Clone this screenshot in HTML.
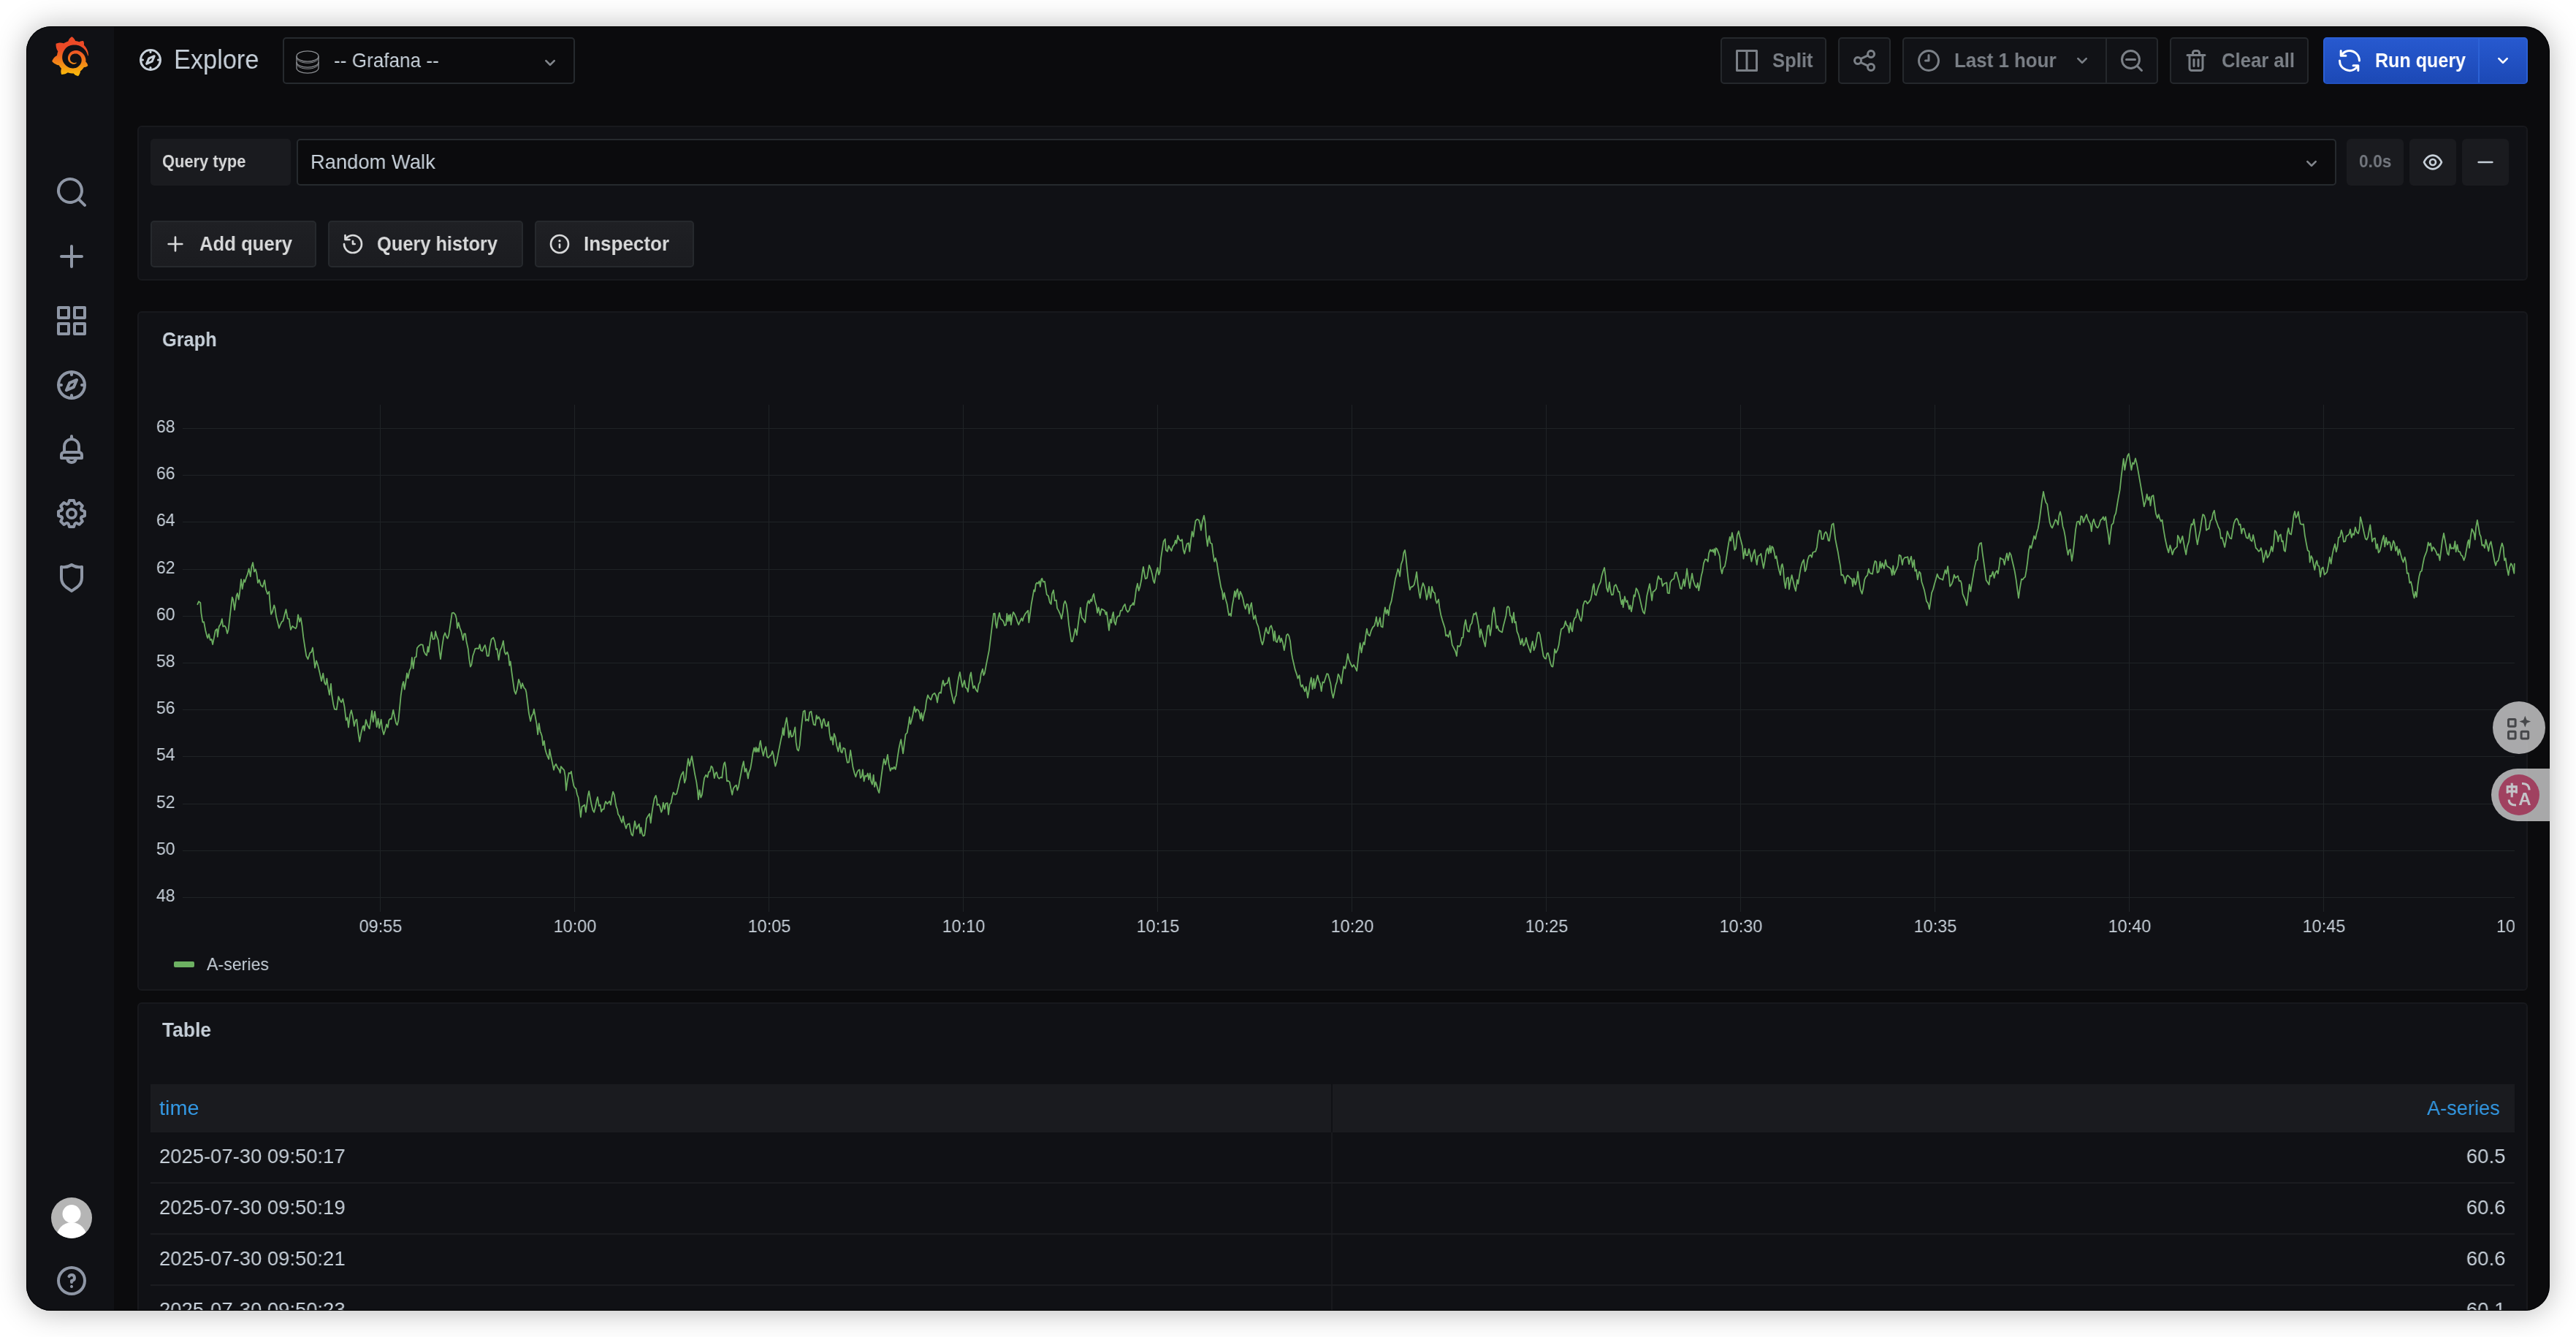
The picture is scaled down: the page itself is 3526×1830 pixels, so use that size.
<!DOCTYPE html>
<html lang="en"><head><meta charset="utf-8"><title>Explore - Grafana</title>
<style>
html,body{margin:0;padding:0;background:#ffffff;}
body{width:3526px;height:1830px;position:relative;overflow:hidden;font-family:"Liberation Sans","Noto Sans CJK SC",sans-serif;}
.win{position:absolute;left:36px;top:36px;width:3454px;height:1758px;border-radius:34px;background:#0b0b0d;overflow:hidden;box-shadow:0 1px 42px rgba(0,0,0,0.29);}
.win:after{content:'';position:absolute;left:0;top:0;right:0;bottom:0;border:1px solid rgba(0,0,0,0.85);border-radius:34px;pointer-events:none;}
.page{position:absolute;left:-36px;top:-36px;width:3526px;height:1830px;}
.t{position:absolute;white-space:nowrap;display:block;will-change:transform;}
.ic{position:absolute;display:block;overflow:visible;}
</style></head><body>
<div class="win"><div class="page">
<div class="sidemenu" style="position:absolute;left:36px;top:36px;width:120px;height:1758px;box-sizing:border-box;background:#101115;"></div>
<svg class="ic" style="left:69.5px;top:50px" width="52.2" height="54.3" viewBox="0 0 351 365"><defs><linearGradient id="glg" gradientUnits="userSpaceOnUse" x1="175.5" y1="445.5" x2="175.5" y2="114"><stop offset="0" stop-color="#FFE600"/><stop offset="1" stop-color="#EC4A27"/></linearGradient></defs><path fill="url(#glg)" d="M342,161.2c-0.600-6.100-1.600-13.100-3.600-20.900c-2-7.700-5-16.200-9.400-25c-4.400-8.800-10.100-17.900-17.500-26.800c-2.900-3.500-6.100-6.900-9.500-10.200c5.100-20.300-6.200-37.900-6.200-37.900c-19.500-1.200-31.900,6.100-36.500,9.400c-0.800-0.300-1.500-0.700-2.300-1c-3.300-1.300-6.700-2.600-10.300-3.700c-3.500-1.100-7.100-2.100-10.800-3c-3.700-0.900-7.400-1.600-11.200-2.200c-0.700-0.100-1.300-0.200-2-0.300c-8.500-27.200-32.900-38.600-32.900-38.600c-27.300,17.300-32.400,41.500-32.400,41.500s-0.100,0.500-0.300,1.400c-1.500,0.400-3,0.900-4.500,1.300c-2.100,0.600-4.200,1.400-6.200,2.200c-2.100,0.800-4.100,1.600-6.200,2.500c-4.100,1.800-8.200,3.800-12.200,6c-3.900,2.200-7.700,4.600-11.400,7.100c-0.500-0.200-1-0.400-1-0.400c-37.800-14.400-71.300,2.900-71.300,2.900c-3.100,40.200,15.100,65.500,18.700,70.100c-0.900,2.500-1.700,5-2.500,7.500c-2.800,9.100-4.900,18.400-6.200,28.100c-0.200,1.400-0.400,2.800-0.500,4.200c-35,17.300-45.300,52.600-45.300,52.600c29.100,33.500,63.100,35.600,63.100,35.600c0,0,0.100-0.100,0.100-0.100c4.300,7.700,9.300,15,14.900,21.900c2.400,2.900,4.800,5.600,7.400,8.300c-10.600,30.400,1.500,55.600,1.500,55.600c32.400,1.200,53.700-14.200,58.200-17.700c3.200,1.100,6.500,2.100,9.800,2.900c10,2.600,20.200,4.100,30.400,4.500c2.500,0.100,5.100,0.200,7.600,0.100l1.200,0l0.800,0l1.600,0l1.600-0.100l0,0.100c15.300,21.800,42.100,24.900,42.100,24.900c19.100-20.100,20.200-40.100,20.200-44.400l0,0c0,0,0-0.100,0-0.300c0-0.400,0-0.600,0-0.600l0,0c0-0.300,0-0.600,0-0.900c4-2.800,7.800-5.800,11.400-9.100c7.600-6.900,14.300-14.800,19.900-23.300c0.500-0.800,1-1.600,1.500-2.400c21.600,1.200,36.900-13.400,36.900-13.400c-3.600-22.500-16.400-33.500-19.100-35.600l0,0c0,0-0.100-0.100-0.300-0.200c-0.200-0.100-0.200-0.200-0.200-0.200c0,0,0,0,0,0c-0.100-0.100-0.300-0.200-0.500-0.300c0.100-1.400,0.200-2.700,0.300-4.100c0.200-2.400,0.200-4.900,0.200-7.300l0-1.800l0-0.900l0-0.500c0-0.600,0-0.400,0-0.600l-0.100-1.500l-0.100-2c0-0.700-0.100-1.300-0.200-1.900c-0.100-0.600-0.100-1.300-0.200-1.900l-0.200-1.900l-0.300-1.900c-0.400-2.500-0.800-4.900-1.400-7.400c-2.300-9.700-6.100-18.900-11-27.200c-5-8.300-11.200-15.600-18.300-21.800c-7-6.200-14.900-11.200-23.100-14.900c-8.300-3.700-16.900-6.100-25.500-7.200c-4.300-0.600-8.600-0.800-12.900-0.700l-1.600,0l-0.400,0c-0.100,0-0.600,0-0.500,0l-0.700,0l-1.600,0.100c-0.600,0-1.200,0.100-1.700,0.100c-2.200,0.200-4.400,0.500-6.500,0.900c-8.600,1.600-16.700,4.700-23.800,9c-7.100,4.300-13.300,9.600-18.300,15.600c-5,6-8.900,12.700-11.600,19.600c-2.700,6.900-4.200,14.100-4.600,21c-0.100,1.700-0.100,3.500-0.100,5.200c0,0.400,0,0.900,0,1.300l0.100,1.400c0.100,0.800,0.100,1.700,0.200,2.500c0.300,3.500,1,6.900,1.900,10.100c1.900,6.500,4.900,12.400,8.600,17.400c3.700,5,8.200,9.100,12.900,12.400c4.700,3.200,9.800,5.500,14.800,7c5,1.500,10,2.100,14.700,2.100c0.600,0,1.200,0,1.700,0c0.300,0,0.600,0,0.900,0c0.300,0,0.600,0,0.900-0.100c0.500,0,1-0.100,1.500-0.100c0.100,0,0.300,0,0.400-0.100l0.500-0.100c0.300,0,0.600-0.100,0.900-0.100c0.600-0.100,1.100-0.200,1.700-0.300c0.600-0.100,1.100-0.200,1.600-0.400c1.100-0.200,2.100-0.600,3.100-0.900c2-0.700,4-1.500,5.700-2.400c1.800-0.900,3.400-2,5-3c0.400-0.300,0.900-0.600,1.300-1c1.600-1.300,1.900-3.700,0.600-5.300c-1.100-1.400-3.100-1.800-4.700-0.900c-0.400,0.200-0.800,0.400-1.200,0.600c-1.400,0.700-2.800,1.300-4.300,1.800c-1.500,0.500-3.100,0.900-4.700,1.200c-0.800,0.100-1.600,0.200-2.500,0.300c-0.400,0-0.800,0.100-1.300,0.100c-0.400,0-0.900,0-1.200,0c-0.400,0-0.800,0-1.200,0c-0.500,0-1,0-1.500-0.100c0,0-0.300,0-0.100,0l-0.200,0l-0.300,0c-0.200,0-0.500,0-0.700-0.100c-0.500-0.100-0.900-0.100-1.400-0.200c-3.700-0.500-7.400-1.600-10.900-3.200c-3.600-1.600-7-3.800-10.100-6.600c-3.100-2.800-5.800-6.100-7.900-9.900c-2.100-3.800-3.600-8-4.300-12.400c-0.300-2.200-0.500-4.500-0.400-6.700c0-0.600,0.100-1.200,0.100-1.800c0,0.200,0-0.100,0-0.100l0-0.200l0-0.500c0-0.300,0.100-0.600,0.100-0.900c0.100-1.200,0.300-2.400,0.500-3.600c1.700-9.600,6.500-19,13.900-26.100c1.900-1.800,3.900-3.400,6-4.900c2.100-1.500,4.400-2.800,6.800-3.900c2.400-1.100,4.800-2,7.400-2.700c2.500-0.700,5.100-1.100,7.800-1.400c1.300-0.100,2.600-0.200,4-0.200c0.400,0,0.600,0,0.900,0l1.100,0l0.700,0c0.300,0,0,0,0.100,0l0.300,0l1.100,0.100c2.900,0.200,5.700,0.600,8.500,1.300c5.600,1.200,11.100,3.300,16.200,6.100c10.200,5.700,18.900,14.500,24.200,25.100c2.700,5.300,4.600,11,5.500,16.900c0.200,1.500,0.400,3,0.500,4.500l0.100,1.100l0.100,1.100c0,0.400,0,0.800,0,1.100c0,0.400,0,0.800,0,1.100l0,1l0,1.100c0,0.700-0.100,1.900-0.100,2.600c-0.100,1.600-0.300,3.300-0.500,4.900c-0.200,1.600-0.500,3.200-0.800,4.800c-0.300,1.600-0.700,3.200-1.100,4.700c-0.800,3.100-1.800,6.200-3,9.300c-2.400,6-5.600,11.800-9.400,17.100c-7.700,10.600-18.200,19.200-30.200,24.700c-6,2.700-12.300,4.700-18.800,5.700c-3.200,0.600-6.500,0.900-9.800,1l-0.600,0l-0.500,0l-1.100,0l-1.600,0l-0.800,0c0.400,0-0.100,0-0.100,0l-0.300,0c-1.800,0-3.500-0.100-5.300-0.300c-7-0.500-13.900-1.800-20.700-3.700c-6.700-1.900-13.200-4.600-19.400-7.800c-12.300-6.600-23.400-15.600-32-26.500c-4.300-5.400-8.100-11.300-11.200-17.400c-3.100-6.100-5.600-12.600-7.400-19.100c-1.800-6.600-2.900-13.300-3.400-20.100l-0.100-1.300l0-0.300l0-0.300l0-0.600l0-1.100l0-0.300l0-0.400l0-0.800l0-1.600l0-0.300c0,0,0,0.100,0-0.100l0-0.600c0-0.800,0-1.700,0-2.500c0.100-3.300,0.400-6.800,0.800-10.200c0.400-3.400,1-6.900,1.700-10.300c0.700-3.400,1.500-6.800,2.500-10.200c1.900-6.700,4.300-13.200,7.100-19.300c5.700-12.200,13.100-23.100,22-31.800c2.200-2.200,4.500-4.200,6.900-6.200c2.400-1.900,4.900-3.700,7.500-5.400c2.500-1.700,5.200-3.200,7.900-4.600c1.300-0.700,2.700-1.400,4.100-2c0.700-0.300,1.400-0.600,2.100-0.900c0.700-0.300,1.400-0.600,2.100-0.900c2.800-1.200,5.700-2.200,8.700-3.100c0.700-0.200,1.500-0.400,2.200-0.700c0.700-0.200,1.500-0.400,2.200-0.600c1.500-0.400,3-0.800,4.500-1.100c0.700-0.200,1.500-0.300,2.300-0.500c0.800-0.200,1.500-0.300,2.300-0.500c0.800-0.100,1.500-0.300,2.300-0.400l1.100-0.200l1.200-0.200c0.800-0.100,1.500-0.200,2.300-0.300c0.900-0.100,1.700-0.200,2.600-0.300c0.700-0.100,1.900-0.200,2.600-0.300c0.500-0.100,1.100-0.100,1.600-0.200l1.100-0.100l0.500-0.100l0.600,0c0.900-0.100,1.700-0.100,2.600-0.200l1.300-0.100c0,0,0.500,0,0.100,0l0.300,0l0.600,0c0.700,0,1.500-0.100,2.200-0.100c2.900-0.100,5.900-0.100,8.800,0c5.800,0.200,11.500,0.900,17,1.900c11.100,2.100,21.500,5.600,31,10.300c9.500,4.600,17.900,10.300,25.300,16.500c0.500,0.400,0.900,0.800,1.400,1.200c0.400,0.400,0.900,0.800,1.300,1.200c0.900,0.800,1.700,1.600,2.600,2.400c0.900,0.800,1.700,1.600,2.500,2.400c0.800,0.800,1.600,1.600,2.400,2.500c3.100,3.300,6,6.600,8.600,10c5.200,6.700,9.400,13.500,12.700,19.900c0.200,0.400,0.400,0.800,0.600,1.200c0.200,0.400,0.400,0.800,0.600,1.200c0.400,0.800,0.800,1.600,1.100,2.400c0.400,0.800,0.700,1.500,1.100,2.300c0.300,0.800,0.700,1.500,1,2.300c1.200,3,2.400,5.900,3.300,8.600c1.500,4.400,2.600,8.300,3.500,11.700c0.300,1.400,1.600,2.300,3,2.100c1.500-0.100,2.600-1.300,2.600-2.800C342.600,170.400,342.500,166.100,342,161.200z"/></svg>
<svg class="ic" style="left:74px;top:239px" width="48" height="48" viewBox="0 0 24 24"><path fill="#8e96a5" d="M21.71,20.29,18,16.61A9,9,0,1,0,16.61,18l3.68,3.68a1,1,0,0,0,1.42,0A1,1,0,0,0,21.71,20.29ZM11,18a7,7,0,1,1,7-7A7,7,0,0,1,11,18Z"/></svg>
<svg class="ic" style="left:74px;top:327px" width="48" height="48" viewBox="0 0 24 24"><path fill="#8e96a5" d="M19,11H13V5a1,1,0,0,0-2,0v6H5a1,1,0,0,0,0,2h6v6a1,1,0,0,0,2,0V13h6a1,1,0,0,0,0-2Z"/></svg>
<svg class="ic" style="left:74px;top:415px" width="48" height="48" viewBox="0 0 24 24"><path fill="#8e96a5" d="M10,13H3a1,1,0,0,0-1,1v7a1,1,0,0,0,1,1h7a1,1,0,0,0,1-1V14A1,1,0,0,0,10,13ZM9,20H4V15H9ZM21,2H14a1,1,0,0,0-1,1v7a1,1,0,0,0,1,1h7a1,1,0,0,0,1-1V3A1,1,0,0,0,21,2ZM20,9H15V4h5Zm1,4H14a1,1,0,0,0-1,1v7a1,1,0,0,0,1,1h7a1,1,0,0,0,1-1V14A1,1,0,0,0,21,13Zm-1,7H15V15h5ZM10,2H3A1,1,0,0,0,2,3v7a1,1,0,0,0,1,1h7a1,1,0,0,0,1-1V3A1,1,0,0,0,10,2ZM9,9H4V4H9Z"/></svg>
<svg class="ic" style="left:74px;top:503px" width="48" height="48" viewBox="0 0 24 24"><path fill="#8e96a5" d="M12,2A10,10,0,1,0,22,12,10,10,0,0,0,12,2Zm1,17.93V19a1,1,0,0,0-2,0v.93A8,8,0,0,1,4.07,13H5a1,1,0,0,0,0-2H4.07A8,8,0,0,1,11,4.07V5a1,1,0,0,0,2,0V4.07A8,8,0,0,1,19.93,11H19a1,1,0,0,0,0,2h.93A8,8,0,0,1,13,19.93ZM15.14,7.55l-5,2.12a1,1,0,0,0-.52.52l-2.12,5a1,1,0,0,0,.21,1.1,1,1,0,0,0,.7.3.93.93,0,0,0,.4-.09l5-2.12a1,1,0,0,0,.52-.52l2.12-5a1,1,0,0,0-1.31-1.31Zm-2.49,5.1-2.28,1,1-2.28,2.28-1Z"/></svg>
<svg class="ic" style="left:74px;top:591px" width="48" height="48" viewBox="0 0 24 24"><path fill="#8e96a5" d="M18,13.18V10a6,6,0,0,0-5-5.91V3a1,1,0,0,0-2,0V4.09A6,6,0,0,0,6,10v3.18A3,3,0,0,0,4,16v2a1,1,0,0,0,1,1H8.14a4,4,0,0,0,7.72,0H19a1,1,0,0,0,1-1V16A3,3,0,0,0,18,13.18ZM8,10a4,4,0,0,1,8,0v3H8Zm4,10a2,2,0,0,1-1.72-1h3.44A2,2,0,0,1,12,20Zm6-3H6V16a1,1,0,0,1,1-1H17a1,1,0,0,1,1,1Z"/></svg>
<svg class="ic" style="left:74px;top:679px" width="48" height="48" viewBox="0 0 24 24"><path fill="#8e96a5" d="M21.32,9.55l-1.89-.63.89-1.78A1,1,0,0,0,20.13,6L18,3.87a1,1,0,0,0-1.15-.19l-1.78.89-.63-1.89A1,1,0,0,0,13.5,2h-3a1,1,0,0,0-.95.68L8.92,4.57,7.14,3.68A1,1,0,0,0,6,3.87L3.87,6a1,1,0,0,0-.19,1.15l.89,1.78-1.89.63A1,1,0,0,0,2,10.5v3a1,1,0,0,0,.68.95l1.89.63-.89,1.78A1,1,0,0,0,3.87,18L6,20.13a1,1,0,0,0,1.15.19l1.78-.89.63,1.89a1,1,0,0,0,.95.68h3a1,1,0,0,0,.95-.68l.63-1.89,1.78.89A1,1,0,0,0,18,20.13L20.13,18a1,1,0,0,0,.19-1.15l-.89-1.78,1.89-.63A1,1,0,0,0,22,13.5v-3A1,1,0,0,0,21.32,9.55ZM20,12.78l-1.2.4A2,2,0,0,0,17.64,16l.57,1.14-1.1,1.1L16,17.64a2,2,0,0,0-2.79,1.16l-.4,1.2H11.22l-.4-1.2A2,2,0,0,0,8,17.64l-1.14.57-1.1-1.1L6.36,16A2,2,0,0,0,5.2,13.18L4,12.78V11.22l1.2-.4A2,2,0,0,0,6.36,8L5.79,6.89l1.1-1.1L8,6.36A2,2,0,0,0,10.82,5.2l.4-1.2h1.56l.4,1.2A2,2,0,0,0,16,6.36l1.14-.57,1.1,1.1L17.64,8a2,2,0,0,0,1.16,2.79l1.2.4ZM12,8a4,4,0,1,0,4,4A4,4,0,0,0,12,8Zm0,6a2,2,0,1,1,2-2A2,2,0,0,1,12,14Z"/></svg>
<svg class="ic" style="left:74px;top:767px" width="48" height="48" viewBox="0 0 24 24"><path fill="#8e96a5" d="M19.63,3.65a1,1,0,0,0-.84-.2,8,8,0,0,1-6.22-1.27,1,1,0,0,0-1.14,0A8,8,0,0,1,5.21,3.45a1,1,0,0,0-.84.2A1,1,0,0,0,4,4.43v7.45a9,9,0,0,0,3.77,7.33l3.65,2.6a1,1,0,0,0,1.16,0l3.65-2.6A9,9,0,0,0,20,11.88V4.43A1,1,0,0,0,19.63,3.65ZM18,11.88a7,7,0,0,1-2.93,5.7L12,19.77,8.930,17.58A7,7,0,0,1,6,11.88V5.58a10,10,0,0,0,6-1.39,10,10,0,0,0,6,1.39Z"/></svg>
<svg class="ic" style="left:70px;top:1639px" width="56" height="56" viewBox="0 0 56 56"><defs><clipPath id="avc"><circle cx="28" cy="28" r="28"/></clipPath></defs><circle cx="28" cy="28" r="28" fill="#b5b5b5"/><g clip-path="url(#avc)" fill="#ffffff"><circle cx="28" cy="22.5" r="12.5"/><ellipse cx="28" cy="56" rx="21" ry="22"/></g></svg>
<svg class="ic" style="left:74px;top:1729px" width="48" height="48" viewBox="0 0 24 24"><path fill="#8e96a5" d="M11.29,15.29a1.58,1.58,0,0,0-.12.15.76.76,0,0,0-.09.18.64.64,0,0,0-.06.18,1.36,1.36,0,0,0,0,.2.84.84,0,0,0,.08.38.9.9,0,0,0,.54.54.94.94,0,0,0,.76,0,.9.9,0,0,0,.54-.54A1,1,0,0,0,13,16a1,1,0,0,0-.29-.71A1,1,0,0,0,11.29,15.29ZM12,2A10,10,0,1,0,22,12,10,10,0,0,0,12,2Zm0,18a8,8,0,1,1,8-8A8,8,0,0,1,12,20ZM12,7A3,3,0,0,0,9.4,8.500a1,1,0,1,0,1.730,1A1,1,0,0,1,12,9a1,1,0,0,1,0,2,1,1,0,0,0-1,1v1a1,1,0,0,0,2,0v-.18A3,3,0,0,0,12,7Z"/></svg>
<svg class="ic" style="left:188px;top:64px" width="36" height="36" viewBox="0 0 24 24"><path fill="#c7d0d9" d="M12,2A10,10,0,1,0,22,12,10,10,0,0,0,12,2Zm1,17.93V19a1,1,0,0,0-2,0v.93A8,8,0,0,1,4.07,13H5a1,1,0,0,0,0-2H4.07A8,8,0,0,1,11,4.07V5a1,1,0,0,0,2,0V4.07A8,8,0,0,1,19.93,11H19a1,1,0,0,0,0,2h.93A8,8,0,0,1,13,19.93ZM15.14,7.55l-5,2.12a1,1,0,0,0-.52.52l-2.12,5a1,1,0,0,0,.21,1.1,1,1,0,0,0,.7.3.93.93,0,0,0,.4-.09l5-2.12a1,1,0,0,0,.52-.52l2.12-5a1,1,0,0,0-1.31-1.31Zm-2.49,5.1-2.28,1,1-2.28,2.28-1Z"/></svg>
<span id="t_explore" class="t" style="left:238px;transform-origin:0 0;top:63.82px;font-size:36.72px;line-height:36.72px;color:#c7d0d9;font-weight:400;transform:scaleX(0.9357);">Explore</span>
<div class="dspicker" style="position:absolute;left:387px;top:51px;width:400px;height:64px;box-sizing:border-box;border:2px solid #262a2e;border-radius:5px;background:#0b0b0d;"></div>
<svg class="ic" style="left:405px;top:69px" width="32" height="32" viewBox="0 0 32 32" fill="none" stroke="#8a8d91" stroke-width="1.3"><ellipse cx="16" cy="8" rx="15" ry="7.2"/><path d="M1 8v8c0 4 6.700 7.200 15 7.200s15-3.200 15-7.200V8"/><path d="M1 16v8c0 4 6.700 7.200 15 7.200s15-3.200 15-7.200v-8"/><path d="M1 10c0 4 6.700 7.200 15 7.200s15-3.200 15-7.200M1 18c0 4 6.700 7.200 15 7.200s15-3.200 15-7.200" stroke-width="1"/></svg>
<span id="t_ds" class="t" style="left:456.8px;transform-origin:0 0;top:67.57px;font-size:28.56px;line-height:28.56px;color:#c7d0d9;font-weight:400;transform:scaleX(0.9157);">-- Grafana --</span>
<svg class="ic" style="left:737px;top:69.7px" width="32" height="32" viewBox="0 0 24 24"><path fill="#82868c" d="M17,9.17a1,1,0,0,0-1.41,0L12,12.71,8.460,9.170a1,1,0,0,0-1.410,0,1,1,0,0,0,0,1.420l4.240,4.240a1,1,0,0,0,1.420,0L17,10.590A1,1,0,0,0,17,9.170Z"/></svg>
<div class="tbtn" style="position:absolute;left:2355px;top:51px;width:145px;height:64px;box-sizing:border-box;border:2px solid #25282c;border-radius:5px;background:#111216;"></div>
<svg class="ic" style="left:2373px;top:65px" width="36" height="36" viewBox="0 0 24 24"><path fill="#7b8087" d="M21,2H3A1,1,0,0,0,2,3V21a1,1,0,0,0,1,1H21a1,1,0,0,0,1-1V3A1,1,0,0,0,21,2ZM11,20H4V4h7Zm9,0H13V4h7Z"/></svg>
<span id="t_split" class="t" style="left:2426px;transform-origin:0 0;top:67.52px;font-size:28.56px;line-height:28.56px;color:#7b8087;font-weight:700;transform:scaleX(0.8972);">Split</span>
<div class="tbtn" style="position:absolute;left:2516px;top:51px;width:72px;height:64px;box-sizing:border-box;border:2px solid #25282c;border-radius:5px;background:#111216;"></div>
<svg class="ic" style="left:2534px;top:65px" width="36" height="36" viewBox="0 0 24 24"><path fill="#7b8087" d="M18,14a4,4,0,0,0-3.080,1.480l-5.100-2.350a3.640,3.640,0,0,0,0-2.260l5.100-2.350A4,4,0,1,0,14,6a4.170,4.170,0,0,0,.070.710L8.790,9.140a4,4,0,1,0,0,5.720l5.280,2.430A4.170,4.170,0,0,0,14,18a4,4,0,1,0,4-4ZM18,4a2,2,0,1,1-2,2A2,2,0,0,1,18,4ZM6,14a2,2,0,1,1,2-2A2,2,0,0,1,6,14Zm12,6a2,2,0,1,1,2-2A2,2,0,0,1,18,20Z"/></svg>
<div class="tbtn" style="position:absolute;left:2604px;top:51px;width:350px;height:64px;box-sizing:border-box;border:2px solid #25282c;border-radius:5px;background:#111216;"></div>
<div style="position:absolute;left:2882px;top:53px;width:2px;height:60px;box-sizing:border-box;background:#25282c;"></div>
<svg class="ic" style="left:2622px;top:65px" width="36" height="36" viewBox="0 0 24 24"><path fill="#7b8087" d="M12,2A10,10,0,1,0,22,12,10,10,0,0,0,12,2Zm0,18a8,8,0,1,1,8-8A8,8,0,0,1,12,20ZM12,6a1,1,0,0,0-1,1v4H9a1,1,0,0,0,0,2h3a1,1,0,0,0,1-1V7A1,1,0,0,0,12,6Z"/></svg>
<span id="t_last" class="t" style="left:2674.5px;transform-origin:0 0;top:67.52px;font-size:28.56px;line-height:28.56px;color:#7b8087;font-weight:700;transform:scaleX(0.9067);">Last 1 hour</span>
<svg class="ic" style="left:2834px;top:67.2px" width="32" height="32" viewBox="0 0 24 24"><path fill="#7b8087" d="M17,9.17a1,1,0,0,0-1.41,0L12,12.71,8.460,9.170a1,1,0,0,0-1.410,0,1,1,0,0,0,0,1.420l4.240,4.240a1,1,0,0,0,1.420,0L17,10.590A1,1,0,0,0,17,9.170Z"/></svg>
<svg class="ic" style="left:2900px;top:65px" width="36" height="36" viewBox="0 0 24 24"><path fill="#7b8087" d="M21.71,20.29,18,16.61A9,9,0,1,0,16.61,18l3.68,3.68a1,1,0,0,0,1.42,0A1,1,0,0,0,21.71,20.29ZM11,18a7,7,0,1,1,7-7A7,7,0,0,1,11,18Zm4-8H7a1,1,0,0,0,0,2h8a1,1,0,0,0,0-2Z"/></svg>
<div class="tbtn" style="position:absolute;left:2970px;top:51px;width:190px;height:64px;box-sizing:border-box;border:2px solid #25282c;border-radius:5px;background:#111216;"></div>
<svg class="ic" style="left:2988px;top:65px" width="36" height="36" viewBox="0 0 24 24"><path fill="#7b8087" d="M10,18a1,1,0,0,0,1-1V11a1,1,0,0,0-2,0v6A1,1,0,0,0,10,18ZM20,6H16V5a3,3,0,0,0-3-3H11A3,3,0,0,0,8,5V6H4A1,1,0,0,0,4,8H5V19a3,3,0,0,0,3,3h8a3,3,0,0,0,3-3V8h1a1,1,0,0,0,0-2ZM10,5a1,1,0,0,1,1-1h2a1,1,0,0,1,1,1V6H10Zm7,14a1,1,0,0,1-1,1H8a1,1,0,0,1-1-1V8H17Zm-3-1a1,1,0,0,0,1-1V11a1,1,0,0,0-2,0v6A1,1,0,0,0,14,18Z"/></svg>
<span id="t_clear" class="t" style="left:3041px;transform-origin:0 0;top:67.52px;font-size:28.56px;line-height:28.56px;color:#7b8087;font-weight:700;transform:scaleX(0.9001);">Clear all</span>
<div class="runbtn" style="position:absolute;left:3180px;top:51px;width:280px;height:64px;box-sizing:border-box;border-radius:5px;border:2px solid #2b60d6;border-top-color:#2b5fd4;border-bottom-color:#2150bf;background:linear-gradient(180deg,#2759cf 0%,#1c49b6 100%);"></div>
<div style="position:absolute;left:3392px;top:53px;width:2px;height:60px;box-sizing:border-box;background:#2c62d6;"></div>
<svg class="ic" style="left:3198px;top:65px" width="36" height="36" viewBox="0 0 24 24"><path fill="#ffffff" d="M19.91,15.51H15.38a1,1,0,0,0,0,2h2.4A8,8,0,0,1,4,12a1,1,0,0,0-2,0,10,10,0,0,0,16.88,7.23V21a1,1,0,0,0,2,0V16.500A1,1,0,0,0,19.91,15.51ZM12,2A10,10,0,0,0,5.120,4.770V3a1,1,0,0,0-2,0V7.500a1,1,0,0,0,1,1h4.500a1,1,0,0,0,0-2H6.220A8,8,0,0,1,20,12a1,1,0,0,0,2,0A10,10,0,0,0,12,2Z"/></svg>
<span id="t_run" class="t" style="left:3251.3px;transform-origin:0 0;top:67.52px;font-size:28.56px;line-height:28.56px;color:#ffffff;font-weight:700;transform:scaleX(0.8784);">Run query</span>
<svg class="ic" style="left:3410.2px;top:67.2px" width="32" height="32" viewBox="0 0 24 24"><path fill="#ffffff" d="M17,9.17a1,1,0,0,0-1.41,0L12,12.71,8.460,9.170a1,1,0,0,0-1.410,0,1,1,0,0,0,0,1.420l4.240,4.240a1,1,0,0,0,1.420,0L17,10.590A1,1,0,0,0,17,9.170Z"/></svg>
<div class="panel" style="position:absolute;left:188px;top:172px;width:3272px;height:212px;box-sizing:border-box;border:2px solid #18191d;border-radius:6px;background:#101115;"></div>
<div class="lbl" style="position:absolute;left:206px;top:190px;width:192px;height:64px;box-sizing:border-box;background:#1a1b1f;border-radius:5px;"></div>
<span id="t_qtype" class="t" style="left:222.4px;transform-origin:0 0;top:209.18px;font-size:24.48px;line-height:24.48px;color:#d8d9da;font-weight:700;transform:scaleX(0.8950);">Query type</span>
<div class="select" style="position:absolute;left:406px;top:190px;width:2792px;height:64px;box-sizing:border-box;border:2px solid #262a2e;border-radius:5px;background:#0b0b0d;"></div>
<span id="t_rw" class="t" style="left:425px;transform-origin:0 0;top:206.82px;font-size:28.56px;line-height:28.56px;color:#c7d0d9;font-weight:400;transform:scaleX(0.9584);">Random Walk</span>
<svg class="ic" style="left:3148px;top:208px" width="32" height="32" viewBox="0 0 24 24"><path fill="#82868c" d="M17,9.17a1,1,0,0,0-1.41,0L12,12.71,8.460,9.170a1,1,0,0,0-1.410,0,1,1,0,0,0,0,1.420l4.240,4.240a1,1,0,0,0,1.420,0L17,10.590A1,1,0,0,0,17,9.170Z"/></svg>
<div style="position:absolute;left:3212px;top:190px;width:78px;height:64px;box-sizing:border-box;background:#1a1b1f;border-radius:6px;"></div>
<span id="t_00s" class="t" style="left:3228.6px;transform-origin:0 0;top:209.18px;font-size:24.48px;line-height:24.48px;color:#74787f;font-weight:700;transform:scaleX(0.9323);">0.0s</span>
<div style="position:absolute;left:3298px;top:190px;width:64px;height:64px;box-sizing:border-box;background:#1a1b1f;border-radius:6px;"></div>
<svg class="ic" style="left:3314px;top:206px" width="32" height="32" viewBox="0 0 24 24"><path fill="#c7d0d9" d="M21.92,11.6C19.9,6.91,16.1,4,12,4S4.1,6.91,2.080,11.600a1,1,0,0,0,0,.8C4.100,17.090,7.900,20,12,20s7.900-2.910,9.920-7.600A1,1,0,0,0,21.920,11.600ZM12,18c-3.170,0-6.170-2.290-7.900-6C5.830,8.290,8.830,6,12,6s6.170,2.290,7.900,6C18.170,15.710,15.170,18,12,18ZM12,8a4,4,0,1,0,4,4A4,4,0,0,0,12,8Zm0,6a2,2,0,1,1,2-2A2,2,0,0,1,12,14Z"/></svg>
<div style="position:absolute;left:3370px;top:190px;width:64px;height:64px;box-sizing:border-box;background:#1a1b1f;border-radius:6px;"></div>
<svg class="ic" style="left:3386px;top:206px" width="32" height="32" viewBox="0 0 24 24"><path fill="#c7d0d9" d="M19,11H5a1,1,0,0,0,0,2H19a1,1,0,0,0,0-2Z"/></svg>
<div class="sbtn" style="position:absolute;left:206px;top:302px;width:227px;height:64px;box-sizing:border-box;border:2px solid #26292d;border-radius:5px;background:linear-gradient(180deg,#1f2024 0%,#1b1c20 100%);"></div>
<svg class="ic" style="left:224px;top:318px" width="32" height="32" viewBox="0 0 24 24"><path fill="#d8d9da" d="M19,11H13V5a1,1,0,0,0-2,0v6H5a1,1,0,0,0,0,2h6v6a1,1,0,0,0,2,0V13h6a1,1,0,0,0,0-2Z"/></svg>
<span id="t_addq" class="t" style="left:272.5px;transform-origin:0 0;top:319.12px;font-size:28.56px;line-height:28.56px;color:#d8d9da;font-weight:700;transform:scaleX(0.8996);">Add query</span>
<div class="sbtn" style="position:absolute;left:449px;top:302px;width:267px;height:64px;box-sizing:border-box;border:2px solid #26292d;border-radius:5px;background:linear-gradient(180deg,#1f2024 0%,#1b1c20 100%);"></div>
<svg class="ic" style="left:466.7px;top:318px" width="32" height="32" viewBox="0 0 24 24"><path fill="#d8d9da" d="M12,2A10,10,0,0,0,5.120,4.770V3a1,1,0,0,0-2,0V7.500a1,1,0,0,0,1,1H8.620a1,1,0,0,0,0-2H6.220A8,8,0,1,1,4,12a1,1,0,0,0-2,0A10,10,0,1,0,12,2Zm0,6a1,1,0,0,0-1,1v3a1,1,0,0,0,1,1h2a1,1,0,0,0,0-2H13V9A1,1,0,0,0,12,8Z"/></svg>
<span id="t_qh" class="t" style="left:516.4px;transform-origin:0 0;top:319.12px;font-size:28.56px;line-height:28.56px;color:#d8d9da;font-weight:700;transform:scaleX(0.8889);">Query history</span>
<div class="sbtn" style="position:absolute;left:732px;top:302px;width:218px;height:64px;box-sizing:border-box;border:2px solid #26292d;border-radius:5px;background:linear-gradient(180deg,#1f2024 0%,#1b1c20 100%);"></div>
<svg class="ic" style="left:750px;top:318px" width="32" height="32" viewBox="0 0 24 24"><path fill="#d8d9da" d="M12,2A10,10,0,1,0,22,12,10,10,0,0,0,12,2Zm0,18a8,8,0,1,1,8-8A8,8,0,0,1,12,20Zm0-8.500a1,1,0,0,0-1,1v3a1,1,0,0,0,2,0v-3A1,1,0,0,0,12,11.500Zm0-4a1.250,1.250,0,1,0,1.250,1.250A1.250,1.250,0,0,0,12,7.500Z"/></svg>
<span id="t_insp" class="t" style="left:798.8px;transform-origin:0 0;top:319.12px;font-size:28.56px;line-height:28.56px;color:#d8d9da;font-weight:700;transform:scaleX(0.9105);">Inspector</span>
<div class="panel" style="position:absolute;left:188px;top:426px;width:3272px;height:930px;box-sizing:border-box;border:2px solid #18191d;border-radius:6px;background:#101115;"></div>
<span id="t_graph" class="t" style="left:222.4px;transform-origin:0 0;top:449.82px;font-size:28.56px;line-height:28.56px;color:#c7d0d9;font-weight:700;transform:scaleX(0.8873);">Graph</span>
<svg class="ic" style="left:0;top:0" width="3526" height="1830" viewBox="0 0 3526 1830"><rect x="250" y="586" width="3192" height="1" fill="#1f2326"/><rect x="250" y="650" width="3192" height="1" fill="#1f2326"/><rect x="250" y="714" width="3192" height="1" fill="#1f2326"/><rect x="250" y="779" width="3192" height="1" fill="#1f2326"/><rect x="250" y="843" width="3192" height="1" fill="#1f2326"/><rect x="250" y="907" width="3192" height="1" fill="#1f2326"/><rect x="250" y="971" width="3192" height="1" fill="#1f2326"/><rect x="250" y="1035" width="3192" height="1" fill="#1f2326"/><rect x="250" y="1100" width="3192" height="1" fill="#1f2326"/><rect x="250" y="1164" width="3192" height="1" fill="#1f2326"/><rect x="250" y="1228" width="3192" height="1" fill="#1f2326"/><rect x="520" y="554" width="1" height="694" fill="#1f2326"/><rect x="786" y="554" width="1" height="694" fill="#1f2326"/><rect x="1052" y="554" width="1" height="694" fill="#1f2326"/><rect x="1318" y="554" width="1" height="694" fill="#1f2326"/><rect x="1584" y="554" width="1" height="694" fill="#1f2326"/><rect x="1850" y="554" width="1" height="694" fill="#1f2326"/><rect x="2116" y="554" width="1" height="694" fill="#1f2326"/><rect x="2382" y="554" width="1" height="694" fill="#1f2326"/><rect x="2648" y="554" width="1" height="694" fill="#1f2326"/><rect x="2914" y="554" width="1" height="694" fill="#1f2326"/><rect x="3180" y="554" width="1" height="694" fill="#1f2326"/><path d="M270.4,827.2 L272,823.3 L274.3,825 L275.4,839.1 L277.4,851.7 L279.1,851.1 L281.3,863 L283.5,871.7 L284.3,873.5 L285.9,867.8 L287.8,876.1 L289.6,875 L291.1,882 L292.8,873.9 L294.8,863 L297,860.9 L297.8,871.7 L299.8,857.6 L302,854.3 L303.9,847.2 L305.2,857.6 L307.4,856.5 L309.1,858.7 L311.1,867 L312.6,862 L315,841.3 L317.8,817.4 L319.1,820.7 L321.1,834.8 L323.7,815.2 L325,812 L326.7,820.7 L328,812 L330,793 L331.7,806.1 L333.9,793.5 L335.2,796.7 L337.2,790.2 L338.9,785.9 L340.7,778.3 L342.8,789.1 L344.3,776.1 L346.1,770 L348,782.6 L349.8,779.3 L351.3,784.8 L353,797.8 L354.8,793.5 L357,801.1 L359.6,803.3 L362.2,794.1 L363.9,806.5 L366.1,813 L368.3,809.8 L369.8,828.3 L371.1,840.9 L373,837 L375.2,828.3 L376.5,832.6 L378,843.5 L380.2,852.2 L382,859.8 L384.1,854.3 L385.7,851.1 L387.4,850 L389.6,841.3 L391.5,834.1 L393.7,846.7 L395.7,847.2 L397,856.5 L398,862 L400.2,857 L402.4,858.7 L404.8,860.2 L406.1,857.6 L408,841.3 L410,851.1 L411.7,845.7 L413.5,856.5 L415.2,871.7 L417.2,884.8 L419.3,897.8 L421.5,902.2 L424.3,893.5 L426.3,892.4 L428,886.5 L429.8,902.2 L431.1,914.1 L433,904.3 L435.2,910.9 L437.8,921.7 L440,932.2 L442.2,921.7 L444.3,934.8 L445.9,937.4 L447.4,928.7 L449.1,941.3 L450.9,951.1 L453,935.9 L454.1,950 L456.3,964.1 L458,970.7 L460.7,971.3 L461.7,965.2 L463.3,953.3 L465.4,958.7 L467.2,961.3 L469.3,956.5 L471.5,967.4 L473.7,985.9 L475.4,982.2 L477,995.7 L479.1,978.3 L480.9,972.2 L483,981.5 L484.8,993.9 L486.7,985.9 L488.3,984.8 L490,1000 L492.2,1015.2 L494.3,1003.3 L496.5,994.6 L497.6,993.5 L498.7,1000 L500.9,985.2 L503,992.4 L505.7,997.4 L507.8,982.6 L509.1,972.8 L510.7,988 L513,973.9 L514.3,982.6 L515.7,995.2 L517.6,983.7 L519.1,996.7 L521.7,984.8 L523.3,997.8 L525.2,1005.4 L527,1000 L529.1,991.3 L530.9,995.7 L532.4,985.9 L534.1,983.7 L535.7,984.3 L538.3,971.7 L540,980.4 L542.2,990.2 L543.7,992.4 L545.4,985.9 L547,969.6 L548.7,952.2 L550.9,937 L552.2,933 L553.7,943.5 L555.2,934.8 L557,921.3 L558.5,928.3 L560.7,917.4 L562.4,914.1 L563.9,900 L565.7,915.2 L567.6,900 L569.8,898.9 L570.9,887 L573.7,883.7 L575.9,882.2 L578.7,882.6 L580.2,891.3 L582.4,895.7 L584.1,897.2 L585.7,885.2 L586.7,892.4 L588.9,876.1 L590.7,865.2 L592.6,875 L594.8,874.3 L596.1,864.1 L597.6,870.7 L599.8,876.1 L601.5,891.3 L603,902.2 L605.2,884.8 L607.4,870.7 L609.1,866.3 L611.1,871.7 L612.6,873.9 L614.3,869.1 L616.5,854.3 L618.7,839.1 L620.9,838.7 L623.3,841.3 L624.8,846.7 L625.9,859.8 L627.6,852.2 L629.6,859.8 L631.3,864.1 L633,871.7 L633.9,876.1 L635.2,867.4 L637,867.4 L638.5,878.3 L640.7,888 L642.2,902.2 L643.9,912.6 L645.4,909.8 L647.2,897.8 L648.7,893.5 L650.4,888 L653,887.4 L655.2,888 L656.7,882.2 L658.3,890.2 L660.2,891.3 L662.2,885.9 L663.9,883 L665.4,889.1 L666.7,897.8 L668.9,897.8 L670.4,885.9 L672.6,875 L675.4,872.8 L677.4,878.3 L679.1,889.1 L680.4,888 L682.6,903.3 L684.6,890.2 L686.7,885.9 L688.9,877.2 L690.7,892.4 L692.2,895.7 L694.3,892.4 L696.1,897.8 L697.4,910.9 L698.7,905.4 L700.4,919.6 L702.2,932.6 L704.1,945.7 L705.9,950 L707.8,943.5 L710,930 L711.7,934.8 L713.3,942.4 L715,935.2 L717.2,941.3 L719.3,943.5 L720.4,947.8 L722.2,962 L723.9,976.1 L726.1,987 L728,979.3 L729.6,977.2 L730.9,970.7 L732.6,980.4 L734.6,991.3 L736.1,1005.4 L737.8,990.2 L739.6,1002.2 L740.2,1002.7 L741.9,1008.1 L743.2,1020.2 L744.9,1014.1 L746.3,1025.6 L747.6,1030.3 L749.6,1035.7 L751.2,1039 L752.3,1025.6 L754.3,1036.3 L756.1,1044.4 L758,1053.9 L759.3,1048.5 L761.1,1045.8 L763.1,1050.5 L765.1,1053.2 L766.8,1057.9 L767.8,1049.1 L770.1,1051.8 L772.2,1054.1 L773.6,1061.9 L774.9,1081.9 L776.5,1070 L778.6,1057.9 L780.6,1058.6 L781.9,1055.9 L783.5,1066 L785.3,1075.4 L786.6,1078.1 L788.4,1079.4 L790,1087.5 L791.6,1091.5 L793.4,1105 L794.9,1118.5 L796.5,1104.3 L798.4,1103 L800.2,1101.6 L801.9,1111.7 L803.5,1099.6 L804.8,1088.9 L806.2,1082.8 L807.5,1090.2 L809.5,1101 L811.5,1109 L813.2,1111.7 L814.9,1105 L816.7,1095.6 L818,1090.9 L819.9,1103 L821.6,1101.6 L823,1111.1 L824.7,1107.7 L826.6,1107.7 L827.7,1101 L829,1096.9 L831.1,1100.3 L832.8,1098.3 L834.4,1096.7 L836,1101.6 L837.4,1091.5 L839.1,1083.7 L840.9,1088.2 L842.2,1096.9 L843.6,1104.3 L844.9,1107.7 L846,1114.4 L847.9,1117.1 L849.5,1121.8 L851.3,1125.9 L853,1117.1 L854,1123.9 L855.7,1129.9 L857,1134 L858.7,1128.6 L861.4,1127.2 L862.7,1134.6 L864.3,1142 L866.1,1143.8 L867.4,1134.6 L868.9,1123.9 L870.1,1129.2 L871.1,1134.6 L872.8,1131.3 L874.8,1127.9 L876.2,1140.7 L877.5,1132.6 L879.1,1141.4 L880.5,1144.3 L882.2,1143.4 L883.6,1133.3 L884.9,1120.5 L886.9,1117.1 L889.1,1113.8 L890.7,1126.5 L892.1,1114.4 L893.7,1103.7 L895.7,1092.9 L897.7,1088.9 L899.1,1094.2 L899.6,1102 L901.7,1100.9 L903.3,1104.1 L905.2,1111.7 L906.5,1108.5 L907.8,1098.7 L909.8,1107.4 L911.3,1099.8 L913.5,1099.1 L915,1115 L916.7,1100.9 L918.5,1099.1 L920.2,1090 L921.7,1084.6 L923.9,1087.8 L926.1,1086.7 L928.3,1078 L930.4,1068.3 L932.6,1060.7 L935.2,1056.3 L937,1071.5 L938.7,1066.1 L940.2,1050.9 L942,1038.3 L943.9,1048.3 L945.7,1040 L947,1035 L948.9,1046.5 L951.1,1059.6 L953.3,1070.4 L954.8,1081.3 L955.9,1094.3 L957.6,1081.3 L959.3,1091.7 L960.9,1087.8 L962.6,1074.8 L964.1,1065 L966.3,1060.7 L968.5,1063.9 L970,1056.3 L971.7,1056.3 L973.5,1048.7 L975.2,1050.4 L976.5,1056.3 L977.8,1065 L979.3,1058.5 L980.9,1057 L982.6,1063.9 L984.3,1065.7 L986.5,1063.9 L988.3,1064.6 L989.6,1053 L990.9,1045.4 L992.2,1043.3 L993.5,1050.9 L995,1069.3 L996.7,1068.7 L998.7,1070.4 L1000.4,1079.1 L1002.2,1087.8 L1003.9,1079.1 L1006.1,1075.9 L1008,1074.8 L1009.3,1081.7 L1010.9,1077 L1012.6,1067.2 L1014.1,1059.6 L1015.9,1049.8 L1017.8,1042.2 L1019.6,1056.3 L1021.3,1052 L1022.8,1058.5 L1023.9,1065.7 L1025.2,1057.4 L1027.2,1052 L1028.9,1042.2 L1030.4,1031.3 L1032.2,1023.7 L1033.7,1029.1 L1034.8,1023 L1036.1,1029.1 L1037.4,1024.3 L1038.7,1029.1 L1039.8,1018.3 L1040.9,1013.9 L1042.6,1024.8 L1044.8,1034.6 L1046.7,1025.9 L1048.3,1022.2 L1050,1035.7 L1051.7,1037.2 L1053.9,1034.6 L1055.4,1033.5 L1057.2,1028 L1058.7,1033.5 L1060,1042.2 L1061.3,1048.7 L1063,1043.3 L1065.2,1031.3 L1067.4,1020.4 L1069.1,1011.7 L1070.7,1005.2 L1071.7,996.5 L1073,1006.3 L1074.6,992.2 L1076.7,982.4 L1078.3,994.3 L1079.8,1009.6 L1081.7,999.8 L1083.3,1008.5 L1085.4,1007.4 L1087,1000.9 L1088.3,995.4 L1089.6,1016.1 L1091.3,1025.9 L1093,1027.6 L1094.6,1020.4 L1096.1,1003 L1097.8,987.8 L1099.6,973.7 L1101.7,972.6 L1102.8,986.7 L1104.8,984.6 L1106.5,986.7 L1108.3,974.8 L1110.4,973.7 L1112,983.5 L1113.7,991.7 L1115.9,992.6 L1117.6,979.1 L1119.1,983.9 L1120.7,981.3 L1122.8,985.7 L1125,996.5 L1126.5,985.7 L1127.8,983.9 L1130,993.3 L1132.2,993.9 L1133.9,987.8 L1135.4,1003 L1137,1012.8 L1138.7,1008.5 L1140.2,1019.3 L1141.7,1004.1 L1143.5,1009.1 L1145.2,1020.4 L1147.4,1028.7 L1149.6,1016.5 L1151.1,1029.1 L1152.6,1030.2 L1154.3,1023.7 L1156.5,1024.8 L1158,1034.6 L1159.8,1043.9 L1162,1043.3 L1164.1,1027 L1165.7,1037.8 L1167.4,1049.8 L1169.6,1058.5 L1171.3,1063.3 L1173,1057.4 L1175,1054.1 L1176.5,1053.5 L1177.8,1065 L1179.6,1062.8 L1180.9,1053.5 L1182.6,1069.3 L1184.3,1061.7 L1186.1,1062.8 L1187.8,1058.5 L1189.1,1067.2 L1190.9,1058.5 L1192.2,1069.3 L1193.9,1073.7 L1195.7,1060.7 L1197,1077 L1198.7,1070.4 L1200,1074.8 L1201.7,1081.3 L1203.3,1085.2 L1204.8,1074.8 L1206.5,1061.7 L1208.3,1048.7 L1210,1038.9 L1212,1046.5 L1213.5,1040 L1215,1033 L1216.5,1045.4 L1218.7,1055.2 L1220.7,1050.9 L1222.2,1052.6 L1223.9,1049.8 L1225.7,1053 L1227.2,1046.5 L1228.7,1035.7 L1230.4,1024.8 L1232.2,1016.1 L1233.3,1012.2 L1234.8,1022.6 L1236.1,1031.3 L1237.8,1018.3 L1239.6,1005.2 L1241.7,1003 L1243.5,992.2 L1245,981.3 L1246.3,991.1 L1247.8,985.7 L1249.6,978 L1251.7,967.2 L1253.3,974.8 L1254.8,970.9 L1256.5,971.5 L1258.3,974.8 L1259.8,983.9 L1261.3,975.9 L1263,986.7 L1264.8,977 L1266.5,971.5 L1268,959.6 L1270,951.3 L1271.7,955.2 L1274.3,957.8 L1276.5,950.9 L1279.3,948.7 L1281.5,953 L1283,961.7 L1284.8,949.8 L1286.5,947.6 L1288,948.7 L1289.6,936.7 L1290.9,931.3 L1292.6,938.9 L1294.3,935.7 L1296.7,935.2 L1298.9,927.4 L1300.7,940 L1302.6,949.8 L1304.3,957.4 L1305.9,962.8 L1307.4,954.1 L1308.7,952 L1310.4,937.8 L1312.2,927 L1313.9,920 L1315.7,931.3 L1317.4,940.4 L1318.7,936.1 L1320.2,931.3 L1321.7,941.1 L1323.5,942.2 L1325,947 L1326.5,934.6 L1327.8,924.8 L1329.1,920.4 L1330.4,931.3 L1332.2,942.2 L1333.9,938.9 L1335.9,944.3 L1338,947 L1339.6,936.7 L1341.3,933.5 L1342.8,922.6 L1345,915.7 L1346.3,924.3 L1347.8,921.5 L1349.6,911.7 L1351.7,900.9 L1353.9,890 L1360,840 L1361.7,839.6 L1363,854.1 L1364.3,859.6 L1366.1,846.5 L1368,838.9 L1369.6,847 L1372,848.7 L1373.5,850.9 L1375.2,856.3 L1377,855.2 L1378.3,840 L1379.6,850.4 L1380.9,842.2 L1382.2,849.8 L1383,841.1 L1383.9,855.2 L1385.2,845.4 L1387,837.8 L1388.7,840.4 L1390.9,845.4 L1392.6,850.9 L1394.3,855.2 L1396.1,850.9 L1398.3,846.1 L1399.8,849.8 L1401.3,844.3 L1403.5,840 L1405.7,837.4 L1407.2,835.7 L1408.3,852 L1410,840 L1411.7,827 L1413.5,817.2 L1415.2,807.4 L1416.5,809.6 L1417.8,799.8 L1419.1,797.6 L1420.9,798.7 L1422.6,795.4 L1423.9,803 L1425.2,793.3 L1426.3,791.7 L1427.8,796.5 L1430,795.9 L1431.3,804.1 L1432.8,813.9 L1435,815.7 L1437,824.8 L1438.7,827 L1440,812.8 L1442,807.8 L1443.7,822.2 L1445.9,821.5 L1447,832.4 L1449.1,836.1 L1451.3,841.1 L1453,847 L1454.8,837.8 L1456.1,827 L1457.8,822.6 L1459.6,827 L1461.3,837.8 L1463,855.2 L1464.8,867.2 L1466.5,878 L1468,878 L1469.8,870.4 L1471.7,860.7 L1473,863.9 L1473.9,869.3 L1475.7,855.2 L1477.4,842.2 L1478.9,831.7 L1480.7,845.4 L1482.8,847.6 L1485.2,852 L1486.7,837.8 L1488.3,825.9 L1489.8,822.2 L1491.1,825.9 L1493,820.4 L1494.3,823 L1495.7,816.1 L1497.2,812.8 L1498.7,822.6 L1500.7,829.1 L1502,838.9 L1503.7,831.3 L1505.7,842.2 L1507.8,833.5 L1510,834.6 L1512.2,836.1 L1513.5,841.1 L1514.8,837.8 L1516.5,850.9 L1518,862.8 L1519.8,847.6 L1521.3,852.6 L1522.6,842.2 L1523.9,837.8 L1525.2,850.9 L1527,855.2 L1528.5,846.5 L1530,843.3 L1532.2,843.3 L1533.9,835.7 L1535.7,835.7 L1537.6,830.2 L1539.8,827 L1541.5,834.6 L1543.7,837.8 L1545.7,835.2 L1547.4,829.1 L1549.6,828 L1550.9,825.2 L1552.2,828 L1553.5,819.3 L1555.2,806.3 L1557,798.7 L1558.7,808.5 L1560.4,803 L1562.2,794.3 L1563.9,781.3 L1565,775.9 L1566.5,785.7 L1567.8,792.2 L1570,791.1 L1571.7,781.3 L1573,773.7 L1575.2,779.1 L1577,785.7 L1578.7,794.8 L1580.2,798 L1581.7,788.9 L1583.3,781.3 L1584.6,777 L1586.1,786.7 L1587.6,782.4 L1589.1,763.9 L1590.9,752 L1592.6,741.1 L1594.8,737.8 L1595.9,753 L1598,754.8 L1599.6,747 L1601.7,750.9 L1603.5,754.1 L1605.2,748.3 L1607.4,745.4 L1608.9,739.6 L1610.4,743.9 L1612.2,733 L1613.9,738.3 L1616.1,740.4 L1618,738.3 L1619.6,752 L1621.3,757.8 L1623,750.9 L1624.8,744.3 L1627,743.3 L1628.3,754.8 L1630,739.6 L1631.7,727.4 L1633.5,734.6 L1635,722.6 L1636.5,712.8 L1638.7,710.7 L1640.9,711.7 L1642.6,717.2 L1643.9,725.9 L1645.7,713.9 L1648,705.7 L1649.6,715 L1650.9,732.4 L1652.8,747.6 L1653.9,738.9 L1655.2,733.5 L1656.7,743.3 L1658.9,744.3 L1660.4,757.4 L1662.2,768.7 L1663.9,763.9 L1665.7,770.4 L1667.6,783.5 L1669.6,794.3 L1671.3,804.1 L1673,809.6 L1674.1,820.4 L1675.7,811.3 L1677.4,819.3 L1679.6,827 L1680.9,835.7 L1682.2,842.2 L1683.9,840 L1685,843.3 L1686.7,829.1 L1688.3,820.4 L1690,809.1 L1691.3,817.2 L1692.6,809.1 L1693.9,806.3 L1695.9,820 L1697.6,809.6 L1699.6,813.9 L1701.3,819.3 L1703,828 L1704.8,833.5 L1706.5,827 L1708.3,827.4 L1709.8,840 L1711.7,829.1 L1713,825.2 L1714.3,836.7 L1716.1,847.6 L1718.3,842.2 L1720,852 L1722.2,857.4 L1724.1,866.1 L1726.3,877.4 L1728,882.4 L1729.6,877 L1731.3,866.1 L1733,859.1 L1734.8,866.1 L1736.5,867.2 L1738.3,858.5 L1740,856.3 L1741.7,861.7 L1743.5,877 L1744.8,863.9 L1746.5,878 L1748,879.1 L1749.6,873.7 L1750.9,870 L1752.4,879.1 L1753.9,873.7 L1755.7,879.1 L1757.8,890 L1759.6,879.1 L1760.9,869.3 L1762.6,867.8 L1764.3,870.4 L1766.1,878 L1767.6,892.2 L1769.1,900.9 L1770.9,908.5 L1772.6,916.1 L1774.8,922.6 L1776.5,928.7 L1778.5,924.3 L1780,936.7 L1781.3,940 L1782.8,937.4 L1784.3,942.2 L1786.1,946.5 L1787.8,940 L1790,955.2 L1791.5,946.5 L1793,935.7 L1794.8,927.4 L1796.5,943.3 L1798.3,929.1 L1799.6,942.2 L1801.3,933.5 L1803.5,924.3 L1805.2,931.3 L1807,935.7 L1808.7,946.1 L1810.4,933.5 L1812.2,934.6 L1814.3,928 L1816.1,922.2 L1817.8,922.6 L1819.6,929.1 L1821.3,935.7 L1823,947.6 L1824.8,955.2 L1826.5,947.6 L1828.3,937.8 L1830,933 L1831.7,922.6 L1833.5,925.9 L1836.1,935.7 L1837.6,922.6 L1839.3,912.2 L1841.3,915 L1843,907.4 L1844.8,894.8 L1846.5,903 L1848.7,908.5 L1850.9,912.8 L1853,910 L1855.2,913.9 L1857.2,918.3 L1858.7,905.2 L1860.4,890 L1861.7,880.2 L1863.5,893.3 L1865.2,883.5 L1866.5,879.1 L1867.8,882.4 L1869.3,870.4 L1870.9,860.7 L1872.6,868.3 L1874.8,870.4 L1877,862.8 L1879.1,858.5 L1881.3,856.3 L1882.8,850.4 L1883.9,844.3 L1885.7,857.4 L1887.6,850.9 L1888.9,845.4 L1890.4,857.4 L1892.6,858.5 L1894.1,842.2 L1895.9,831.3 L1897.4,840 L1899.1,834.6 L1900.7,842.2 L1902.4,829.1 L1904.6,822.6 L1906.1,813.9 L1907.8,805.2 L1910,792.2 L1911.7,785.7 L1913.5,778.7 L1914.8,782.4 L1916.1,788.9 L1917.8,772.6 L1920,766.5 L1921.3,756.7 L1923,753 L1924.3,762.2 L1926.1,779.6 L1927.8,794.8 L1929.8,807.4 L1931.3,803.5 L1933.5,803 L1935.7,800.2 L1937.4,792.6 L1939.1,782.8 L1940.7,799.1 L1942.6,812.2 L1943.9,818.7 L1945.7,805.7 L1947.8,798 L1949.6,802.4 L1951.3,810 L1952.8,820.9 L1954.3,814.8 L1955.9,803 L1957,812.2 L1958.3,818.7 L1960,803 L1961.7,810 L1963.9,811.7 L1965.2,821.3 L1966.7,825.7 L1969.1,820.4 L1970.4,831.7 L1972.2,841.5 L1974.3,849.1 L1976.1,854.6 L1977.8,860 L1979.1,870.4 L1980.9,869.1 L1982.6,872 L1984.8,863.3 L1986.1,872 L1987.8,882.8 L1990,887.2 L1992.2,891.5 L1993.9,898 L1995.2,883.9 L1997.4,885 L1999.1,882.8 L2000.9,873 L2002.6,872.6 L2004.3,856.7 L2006.1,848.3 L2007.8,860 L2009.1,863.9 L2010.9,864.8 L2012.6,855.7 L2014.6,853 L2016.1,844.8 L2017.4,840 L2018.9,840.9 L2020.4,838.3 L2022.2,847 L2023.9,856.7 L2025.7,872 L2027,861.1 L2028.3,866.5 L2030.4,875.2 L2033,885 L2034.8,868.7 L2036.3,856.7 L2038,855.7 L2039.8,869.8 L2041.3,860 L2043,840.4 L2045,831.3 L2046.5,843.7 L2048.3,860 L2049.8,856.7 L2051.3,862.2 L2053.7,864.3 L2056.1,865.4 L2057.8,856.7 L2059.8,849.1 L2061.5,842.2 L2062.8,831.3 L2064.3,830 L2065.7,831.7 L2067,842.6 L2068.5,843.7 L2070,852.4 L2072,838.3 L2073.3,852.4 L2074.8,850.9 L2076.5,864.3 L2078.3,868.7 L2080,875.2 L2081.5,882.2 L2083.5,874.1 L2085.2,883.9 L2087,881.7 L2088.9,873 L2090.7,880.7 L2092.8,887.2 L2095,893 L2096.5,882.8 L2097.8,877.8 L2099.6,890 L2101.5,885 L2103.3,875.2 L2104.8,866.1 L2106.5,865.4 L2107.8,868.7 L2109.6,879.6 L2111.3,890.4 L2112.6,898 L2114.6,901.3 L2116.1,901.7 L2117.4,894.8 L2118.9,893.7 L2120.4,899.1 L2122.2,907.8 L2123.9,912.2 L2125.4,912.6 L2127,901.3 L2128,888.3 L2129.8,893.7 L2132,889.3 L2133.7,882.8 L2135.2,872 L2137,861.1 L2139.1,860 L2140.9,857.8 L2142.8,850.2 L2144.3,855.7 L2146.1,856.7 L2147.8,866.1 L2149.6,852.4 L2150.9,861.1 L2152.2,864.3 L2153.7,851.3 L2155.4,845.9 L2157,845.2 L2159.1,833.9 L2160.9,840.4 L2162.6,847 L2164.3,850.2 L2165.7,842.6 L2167,828.5 L2168.9,823 L2170.7,822.6 L2172.8,826.3 L2174.8,824.1 L2177.2,820.9 L2178.7,814.3 L2180.2,803.5 L2181.7,799.1 L2183,813.3 L2184.8,814.8 L2186.5,807.8 L2188.5,801.3 L2190.7,797 L2192.4,788.3 L2194.3,781.7 L2196.1,777 L2197.6,788.3 L2199.1,804.6 L2200.9,810 L2203,797 L2204.3,807.8 L2205.9,814.3 L2208,813.9 L2209.6,802.4 L2211.7,800.2 L2213.5,804.6 L2215.2,810 L2216.7,810 L2218.3,820.9 L2219.6,827 L2220.9,820.9 L2221.7,831.3 L2223.9,816.5 L2225.7,824.1 L2227.4,822 L2228.7,828.5 L2230,833.9 L2231.3,828.5 L2233,837.2 L2234.8,827.4 L2236.5,814.3 L2237.8,816.5 L2239.6,805.2 L2241.3,807.8 L2243.5,814.3 L2245.4,823 L2247.4,831.7 L2249.1,837.8 L2250.9,840 L2252.6,829.6 L2254.3,815.4 L2256.3,806.7 L2258,799.1 L2259.6,810 L2261.1,822 L2262.6,810 L2264.6,808.9 L2267,805.7 L2268.5,794.8 L2270,788.3 L2271.7,792.6 L2273.9,792 L2275.7,802.4 L2277.6,799.1 L2280,798 L2281.3,797.4 L2282.6,811.7 L2284.8,812.2 L2286.3,797.4 L2288.5,793.7 L2291.3,792.2 L2293,783.9 L2294.8,783.5 L2296.5,790 L2298.3,797 L2300,805.2 L2301.7,806.1 L2303.3,799.1 L2304.6,793 L2305.9,802.4 L2307.4,792.6 L2309.1,778.5 L2310.9,792.6 L2313,805.2 L2314.6,793.7 L2316.1,785 L2317.8,794.8 L2320,801.3 L2322.2,804.6 L2323.9,798 L2325.2,808.3 L2327,799.1 L2328.7,788.3 L2330.4,781.7 L2332,770.9 L2334.1,765.4 L2336.1,766.1 L2337.8,768.7 L2339.1,757.4 L2340.9,752.4 L2342.6,754.6 L2343.9,752.4 L2345.2,755.7 L2346.5,751.3 L2347.6,760 L2348.7,750.2 L2350.4,751.7 L2352.2,756.7 L2353.9,761.7 L2355.2,777.4 L2357,785 L2358.7,777.4 L2360.9,775.2 L2362.6,766.5 L2364.6,753.5 L2366.3,742.6 L2367.8,735 L2369.1,740.4 L2370.9,729.1 L2372.6,738.3 L2374.3,753 L2376.1,750.2 L2377.8,732.8 L2379.8,727 L2381.3,733.9 L2383,740 L2384.8,747 L2386.5,764.8 L2388.5,750.9 L2390,760 L2392.2,760 L2393.9,751.3 L2395.7,758.9 L2397.4,768.7 L2399.6,758.3 L2401.7,752.4 L2403.3,764.3 L2404.8,773 L2406.5,761.1 L2408.7,760 L2410.4,757.8 L2412.2,768.7 L2413.9,777.8 L2415.7,767.6 L2417.8,753.5 L2419.6,750.2 L2420.9,757.8 L2422.6,747 L2423.9,756.7 L2425.4,748 L2427,749.6 L2428.7,756.7 L2430,764.3 L2431.5,761.1 L2433.5,773 L2435.2,780.7 L2437,787.2 L2438.5,774.1 L2439.6,772 L2440.9,778.5 L2442.2,794.8 L2443.9,805.2 L2445.7,791.5 L2447.8,790.4 L2448.9,806.7 L2450.9,794.8 L2452.6,787.2 L2454.3,794.8 L2456.3,803.5 L2458,808.9 L2460,793.7 L2461.3,799.1 L2463,787.8 L2464.8,777.4 L2466.7,770.4 L2468.9,766.1 L2470.7,782.2 L2472.2,779.1 L2474.3,766.5 L2476.1,761.1 L2478.3,759.6 L2480,762.8 L2481.3,756.3 L2483.5,755.2 L2485.2,754.8 L2487,748.7 L2488.7,733.5 L2490.4,725.9 L2492.2,727 L2493.5,737.8 L2495.7,737.8 L2497.4,730.2 L2499.1,728 L2500.9,731.3 L2502.6,740 L2503.9,740.4 L2505.7,729.1 L2507.4,718.3 L2509.6,716.5 L2510.9,727 L2512.2,737.8 L2513.9,746.5 L2515.7,755.2 L2517.4,765.7 L2519.1,774.8 L2520.4,787.4 L2522.2,786.7 L2523.9,790 L2525.7,798.7 L2527.4,789.6 L2529.1,787.4 L2531.3,789.6 L2533,791.7 L2534.8,792.6 L2536.1,802.6 L2537.6,791.7 L2539.6,800.4 L2541.3,795.4 L2543,782.4 L2544.8,796.5 L2546.5,807 L2548.7,812.8 L2550.4,805.2 L2552.2,793.3 L2553.9,789.6 L2556.1,787.4 L2557.8,778.7 L2559.3,783.9 L2561.3,785.2 L2563,785.7 L2564.8,774.8 L2566.5,767.8 L2568.3,769.3 L2569.6,783.9 L2571.7,782.4 L2573.5,768.7 L2574.8,777.4 L2576.5,770.9 L2578.9,778 L2580.9,766.5 L2582.6,774.3 L2584.3,775.9 L2586.5,777 L2588.3,779.1 L2589.8,787.4 L2591.3,774.3 L2592.6,786.7 L2594.3,782.4 L2596.1,778.7 L2597.8,774.3 L2599.6,759.6 L2601.7,760.7 L2603.9,773 L2605.2,765.7 L2607.4,763 L2609.6,762.8 L2611.3,762.2 L2613,772.2 L2614.8,765 L2616.1,761.7 L2618,776.5 L2620,766.5 L2621.3,781.7 L2623,779.6 L2624.8,793.3 L2627,782.4 L2628.7,784.6 L2630.4,796.5 L2632.2,802 L2633.9,807.4 L2635.7,816.1 L2637,823 L2639.1,825.9 L2640.9,833.9 L2642.6,822.2 L2644.1,811.3 L2646.1,806.3 L2647.8,799.8 L2650,792.2 L2651.7,785.7 L2653.5,790.4 L2655.7,792.2 L2657.8,792.6 L2659.3,793.9 L2660.9,786.7 L2662.6,780.2 L2664.3,785.2 L2666.1,775.2 L2667.8,790 L2669.1,802.6 L2671.3,799.8 L2673,795.4 L2674.8,786.7 L2676.7,791.1 L2678.3,789.6 L2680,788.3 L2681.7,795.4 L2683.5,794.8 L2684.8,798.3 L2686.5,812.8 L2688.3,817.2 L2690.4,822.2 L2692.2,828.7 L2693.9,813.9 L2695.7,799.8 L2697.4,809.6 L2699.1,798.3 L2700.9,787.8 L2702.6,777.4 L2705,767.2 L2706.7,766.5 L2708.3,748.7 L2710,743.9 L2712,743 L2713.5,756.3 L2715.2,768.3 L2717,781.3 L2718.7,794.3 L2720.9,797.6 L2722.6,800.4 L2723.9,787.8 L2725.7,788.9 L2727.8,782.4 L2729.6,791.1 L2731.3,783.9 L2733.3,781.3 L2734.8,785.2 L2736.5,774.8 L2737.8,763.5 L2739.8,765 L2742,765.7 L2743.7,773 L2745.2,765 L2747,757.4 L2748.7,767.2 L2750.7,756.3 L2752.6,759.6 L2754.3,767.2 L2756.1,774.8 L2757.8,782.4 L2759.6,793.3 L2761.3,806.3 L2763,818.7 L2764.8,805.2 L2767,792.6 L2768.7,793.3 L2770.2,791.1 L2772,789.6 L2773.5,781.3 L2775.2,769.3 L2777,753 L2778.7,747 L2780.4,750.4 L2782.2,742.2 L2784.3,733.5 L2786.1,737.8 L2787.8,729.1 L2789.6,723.7 L2791.3,713.9 L2793,700.9 L2794.8,686.7 L2797,673 L2798.7,681.3 L2800.4,687.8 L2802.2,690 L2803.9,703 L2805.7,715 L2807.4,720.4 L2809.1,722.6 L2811.3,717.2 L2813.5,711.3 L2815.2,712.8 L2817,718.3 L2818.5,705.2 L2820,700.4 L2821.7,707.4 L2823.5,720.4 L2825.2,725.9 L2827,735.7 L2828.7,748.7 L2830.7,759.6 L2832.2,753 L2833.9,752 L2835.9,767.8 L2837.6,757 L2839.3,742.2 L2841.1,724.8 L2843,714.3 L2845.2,713.5 L2847,718.3 L2848.5,706.3 L2850.2,707.4 L2851.7,715 L2853.9,709.1 L2856.1,704.1 L2857.8,710.7 L2859.6,714.3 L2861.3,717.2 L2862.8,727.4 L2864.3,715 L2865.9,710.7 L2867.6,717.2 L2869.6,721.5 L2871.3,722.6 L2873.5,718.3 L2875.2,711.7 L2877,710.7 L2878.9,707.4 L2880.4,712.2 L2882.2,707.4 L2883.9,720.4 L2885.7,731.3 L2887.2,744.8 L2888.7,731.3 L2890.4,718.3 L2892.6,716.1 L2894.3,706.3 L2896.1,702.6 L2897.8,692.2 L2899.6,681.3 L2901.7,670.4 L2903.5,653 L2905.2,639.6 L2906.7,628 L2908.3,643.3 L2910,633 L2912.2,623.7 L2913.9,620.9 L2915.9,633.5 L2917.4,643.3 L2919.1,633.5 L2920.9,635.2 L2923,627.4 L2924.8,634.6 L2926.5,643.9 L2928.3,654.1 L2930.4,666.1 L2932.6,679.1 L2934.8,693.3 L2937,685.7 L2938.7,676.5 L2940.4,684.6 L2942.2,680.2 L2943.5,692.2 L2945.2,679.6 L2947.4,678 L2949.1,690 L2950.9,703 L2953,709.1 L2954.8,704.1 L2956.1,709.6 L2957.8,713.5 L2959.6,711.7 L2961.5,724.8 L2963.7,737.8 L2966.1,748.7 L2968.3,756.3 L2970.4,746.5 L2972,752 L2973.5,759.1 L2975.7,752.6 L2977.8,750.4 L2980,748.3 L2980.9,733 L2982.6,736.1 L2984.3,743.3 L2986.1,737.8 L2987.4,733.9 L2989.1,743.3 L2990.9,753 L2992.2,759.1 L2993.9,747.6 L2996.1,741.1 L2997.8,727 L2999.6,717.2 L3001.3,718.3 L3003,710.7 L3004.8,723.7 L3006.5,737.8 L3007.8,745.4 L3009.6,735.2 L3011.7,725.9 L3013.5,713.5 L3015.2,704.1 L3017,705.2 L3018.7,710.7 L3020,725.9 L3021.7,724.3 L3023.5,723.7 L3025.7,712.8 L3027.4,711.3 L3029.1,702.6 L3030.9,698.7 L3032.6,710.7 L3034.3,715 L3036.5,721.5 L3038.3,724.8 L3040,737 L3041.7,735.9 L3043.5,742.4 L3045.2,748.9 L3047,739.1 L3048.7,727.2 L3050.4,731.5 L3052.2,736.5 L3054.3,737.4 L3056.1,726.1 L3057.8,716.3 L3060,710.9 L3061.7,709.8 L3063.5,713 L3064.8,718.5 L3066.5,717.4 L3068.3,730.4 L3069.6,723.9 L3071.5,723.5 L3073,729.3 L3074.8,735.9 L3077,737 L3078.7,730 L3080.4,739.1 L3082.4,740.9 L3084.1,732.2 L3086.1,741.3 L3087.8,750 L3090,752.2 L3091.7,754.8 L3093.5,753.3 L3094.8,750 L3096.5,756.5 L3098,769.6 L3100,760.9 L3101.7,753.3 L3103.5,763.5 L3105.7,760.4 L3107.4,755.4 L3109.1,747.8 L3110.7,754.8 L3112.2,744.6 L3113.9,726.1 L3115.7,728.3 L3117.2,733.7 L3118.3,741.3 L3119.6,733.7 L3121.7,731.5 L3123.3,741.3 L3124.8,740.2 L3126.5,753.3 L3128,754.8 L3129.6,741.3 L3130.9,729.3 L3132.4,722.8 L3133.9,730.4 L3136.1,731.5 L3137.8,720.7 L3139.6,705.4 L3141.1,700 L3142.6,708.7 L3144.3,706.1 L3145.9,700.4 L3147.4,710.9 L3148.7,717 L3150.9,717.8 L3153,717.4 L3154.8,732.6 L3157,744.6 L3158.7,753.3 L3160.7,754.8 L3161.7,769.6 L3163.5,760.9 L3165.2,764.1 L3166.7,772.8 L3168.3,780 L3170,770.7 L3171.3,767.4 L3172.6,773.9 L3174.3,775 L3176.1,789.6 L3177.8,778.3 L3179.8,776.5 L3181.7,786.5 L3183.5,784.8 L3185.2,783 L3187,773.9 L3188.9,762.6 L3190.7,771.7 L3192.2,760.9 L3193.9,752.2 L3196.1,744.6 L3197.8,755.4 L3199.6,747.8 L3200.9,735.9 L3203,734.8 L3204.8,725.7 L3206.3,730.4 L3208,741.7 L3210.2,740.9 L3211.7,733.7 L3214.3,732.2 L3215.7,730.4 L3217,724.3 L3218.7,735.9 L3220.4,730.4 L3222.2,732.2 L3223.9,721.7 L3225.9,728.3 L3228,730.4 L3229.6,723.9 L3230.9,707.6 L3232.6,714.1 L3234.3,721.7 L3236.1,730.4 L3237.8,737.4 L3239.6,738.7 L3241.3,734.8 L3243,725 L3244.3,718.5 L3246.1,732.6 L3247,741.3 L3248.7,737.4 L3250.9,736.5 L3252.6,751.1 L3254.1,744.6 L3255.7,756.5 L3257.4,754.3 L3259.1,747.8 L3260.9,739.1 L3262.8,733 L3264.3,748.3 L3266.1,735.9 L3267.8,745.7 L3269.6,741.3 L3271.3,742.4 L3273,753.3 L3274.8,746.1 L3276.1,740.2 L3277.6,743.5 L3279.1,753.9 L3280.9,747.8 L3282.6,759.8 L3284.3,751.7 L3286.1,758.7 L3287.8,765.2 L3289.6,769.6 L3291.7,762.6 L3293.3,769.6 L3294.8,784.8 L3296.5,784.3 L3298.3,797.8 L3300,796.1 L3301.5,802.2 L3303,812 L3304.6,818.5 L3306.1,809.8 L3307.8,817 L3309.6,800 L3311.3,789.1 L3313,782.6 L3314.8,781.5 L3316.5,771.7 L3318.3,763 L3320,758.7 L3321.7,754.3 L3323.7,742.4 L3325.2,746.7 L3327,743.5 L3328.7,754.3 L3330.4,748.9 L3332.4,751.1 L3334.6,755.4 L3336.1,759.8 L3337.8,758.3 L3339.6,767 L3341.3,753.3 L3343,740.2 L3345,730 L3346.5,738 L3348.3,747.8 L3350,757.6 L3351.7,759.8 L3353.5,744.6 L3355.2,751.1 L3357,750 L3358.7,751.1 L3360.4,740.9 L3361.7,755.4 L3363.5,745.7 L3365,754.8 L3367.2,755.4 L3368.7,759.8 L3370.4,760.9 L3372.6,767 L3374.3,762 L3376.1,752.2 L3377.8,742.4 L3379.1,739.1 L3380,750 L3381.7,734.8 L3383.5,723.9 L3385.2,727.2 L3386.5,730.4 L3387.8,738.7 L3389.1,721.7 L3390.9,712 L3392.6,721.7 L3394.3,731.5 L3395.7,734.3 L3397.4,746.7 L3399.1,745.7 L3400.9,750 L3402.6,738.7 L3404.3,745.7 L3406.3,754.3 L3407.8,745.2 L3409.6,741.3 L3411.3,750 L3413,759.8 L3414.8,769.6 L3416.1,773.9 L3417.8,768.5 L3419.6,767.4 L3421.3,759.8 L3423,750 L3424.8,743.5 L3426.5,748.9 L3428,767 L3429.6,764.1 L3431.3,776.1 L3433.5,787.4 L3435.2,776.1 L3437,771.3 L3438.7,773.9 L3440,779.3 L3441.3,784.8 L3441.7,771.7" fill="none" stroke="#6aad5f" stroke-width="1.8" stroke-linejoin="round" stroke-linecap="round"/></svg>
<span id="t_y0" class="t" style="right:3286.6px;transform-origin:100% 0;top:572.08px;font-size:24px;line-height:24px;color:#c7d0d9;font-weight:400;transform:scaleX(0.9662);">68</span>
<span id="t_y1" class="t" style="right:3286.6px;transform-origin:100% 0;top:636.08px;font-size:24px;line-height:24px;color:#c7d0d9;font-weight:400;transform:scaleX(0.9662);">66</span>
<span id="t_y2" class="t" style="right:3286.6px;transform-origin:100% 0;top:700.08px;font-size:24px;line-height:24px;color:#c7d0d9;font-weight:400;transform:scaleX(0.9662);">64</span>
<span id="t_y3" class="t" style="right:3286.6px;transform-origin:100% 0;top:765.08px;font-size:24px;line-height:24px;color:#c7d0d9;font-weight:400;transform:scaleX(0.9662);">62</span>
<span id="t_y4" class="t" style="right:3286.6px;transform-origin:100% 0;top:829.08px;font-size:24px;line-height:24px;color:#c7d0d9;font-weight:400;transform:scaleX(0.9662);">60</span>
<span id="t_y5" class="t" style="right:3286.6px;transform-origin:100% 0;top:893.08px;font-size:24px;line-height:24px;color:#c7d0d9;font-weight:400;transform:scaleX(0.9662);">58</span>
<span id="t_y6" class="t" style="right:3286.6px;transform-origin:100% 0;top:957.08px;font-size:24px;line-height:24px;color:#c7d0d9;font-weight:400;transform:scaleX(0.9662);">56</span>
<span id="t_y7" class="t" style="right:3286.6px;transform-origin:100% 0;top:1021.08px;font-size:24px;line-height:24px;color:#c7d0d9;font-weight:400;transform:scaleX(0.9662);">54</span>
<span id="t_y8" class="t" style="right:3286.6px;transform-origin:100% 0;top:1086.08px;font-size:24px;line-height:24px;color:#c7d0d9;font-weight:400;transform:scaleX(0.9662);">52</span>
<span id="t_y9" class="t" style="right:3286.6px;transform-origin:100% 0;top:1150.08px;font-size:24px;line-height:24px;color:#c7d0d9;font-weight:400;transform:scaleX(0.9662);">50</span>
<span id="t_y10" class="t" style="right:3286.6px;transform-origin:100% 0;top:1214.08px;font-size:24px;line-height:24px;color:#c7d0d9;font-weight:400;transform:scaleX(0.9662);">48</span>
<span id="t_x0" class="t" style="left:520.5px;transform-origin:50% 0;top:1255.58px;font-size:24px;line-height:24px;color:#c7d0d9;font-weight:400;transform:translateX(-50%) scaleX(0.9773);">09:55</span>
<span id="t_x1" class="t" style="left:786.5px;transform-origin:50% 0;top:1255.58px;font-size:24px;line-height:24px;color:#c7d0d9;font-weight:400;transform:translateX(-50%) scaleX(0.9773);">10:00</span>
<span id="t_x2" class="t" style="left:1052.5px;transform-origin:50% 0;top:1255.58px;font-size:24px;line-height:24px;color:#c7d0d9;font-weight:400;transform:translateX(-50%) scaleX(0.9773);">10:05</span>
<span id="t_x3" class="t" style="left:1318.5px;transform-origin:50% 0;top:1255.58px;font-size:24px;line-height:24px;color:#c7d0d9;font-weight:400;transform:translateX(-50%) scaleX(0.9773);">10:10</span>
<span id="t_x4" class="t" style="left:1584.5px;transform-origin:50% 0;top:1255.58px;font-size:24px;line-height:24px;color:#c7d0d9;font-weight:400;transform:translateX(-50%) scaleX(0.9773);">10:15</span>
<span id="t_x5" class="t" style="left:1850.5px;transform-origin:50% 0;top:1255.58px;font-size:24px;line-height:24px;color:#c7d0d9;font-weight:400;transform:translateX(-50%) scaleX(0.9773);">10:20</span>
<span id="t_x6" class="t" style="left:2116.5px;transform-origin:50% 0;top:1255.58px;font-size:24px;line-height:24px;color:#c7d0d9;font-weight:400;transform:translateX(-50%) scaleX(0.9773);">10:25</span>
<span id="t_x7" class="t" style="left:2382.5px;transform-origin:50% 0;top:1255.58px;font-size:24px;line-height:24px;color:#c7d0d9;font-weight:400;transform:translateX(-50%) scaleX(0.9773);">10:30</span>
<span id="t_x8" class="t" style="left:2648.5px;transform-origin:50% 0;top:1255.58px;font-size:24px;line-height:24px;color:#c7d0d9;font-weight:400;transform:translateX(-50%) scaleX(0.9773);">10:35</span>
<span id="t_x9" class="t" style="left:2914.5px;transform-origin:50% 0;top:1255.58px;font-size:24px;line-height:24px;color:#c7d0d9;font-weight:400;transform:translateX(-50%) scaleX(0.9773);">10:40</span>
<span id="t_x10" class="t" style="left:3180.5px;transform-origin:50% 0;top:1255.58px;font-size:24px;line-height:24px;color:#c7d0d9;font-weight:400;transform:translateX(-50%) scaleX(0.9773);">10:45</span>
<div class="clip" style="position:absolute;left:3400px;top:1250px;width:42.4px;height:40px;box-sizing:border-box;overflow:hidden;"><span id="t_xlast" class="t" style="left:17.3px;top:5.58px;font-size:24px;line-height:24px;color:#c7d0d9;transform-origin:0 0;transform:scaleX(0.9773)">10:50</span></div>
<div style="position:absolute;left:238px;top:1316px;width:28px;height:8px;box-sizing:border-box;background:#6db162;border-radius:2px;"></div>
<span id="t_leg" class="t" style="left:282.5px;transform-origin:0 0;top:1307.98px;font-size:24.48px;line-height:24.48px;color:#c7d0d9;font-weight:400;transform:scaleX(0.9471);">A-series</span>
<div class="panel" style="position:absolute;left:188px;top:1372px;width:3272px;height:528px;box-sizing:border-box;border:2px solid #18191d;border-radius:6px;background:#101115;"></div>
<span id="t_table" class="t" style="left:222.4px;transform-origin:0 0;top:1395.22px;font-size:28.56px;line-height:28.56px;color:#c7d0d9;font-weight:700;transform:scaleX(0.9247);">Table</span>
<div class="thead" style="position:absolute;left:206px;top:1484px;width:3236px;height:66px;box-sizing:border-box;background:#1a1b1f;"></div>
<div style="position:absolute;left:1822px;top:1484px;width:2px;height:66px;box-sizing:border-box;background:#101115;"></div>
<div style="position:absolute;left:1822px;top:1550px;width:2px;height:250px;box-sizing:border-box;background:#191a1e;"></div>
<span id="t_time" class="t" style="left:218.2px;transform-origin:0 0;top:1501.72px;font-size:28.56px;line-height:28.56px;color:#3398e3;font-weight:400;transform:scaleX(1.0104);">time</span>
<span id="t_aser" class="t" style="right:104.8px;transform-origin:100% 0;top:1501.82px;font-size:28.56px;line-height:28.56px;color:#3398e3;font-weight:400;transform:scaleX(0.9522);">A-series</span>
<span id="t_r0a" class="t" style="left:218.2px;transform-origin:0 0;top:1569.30px;font-size:28px;line-height:28px;color:#c7d0d9;font-weight:400;transform:scaleX(0.9792);">2025-07-30 09:50:17</span>
<span id="t_r0b" class="t" style="right:96.1px;transform-origin:100% 0;top:1569.30px;font-size:28px;line-height:28px;color:#c7d0d9;font-weight:400;transform:scaleX(0.9853);">60.5</span>
<div style="position:absolute;left:206px;top:1618px;width:3236px;height:2px;box-sizing:border-box;background:#1b1c20;"></div>
<span id="t_r1a" class="t" style="left:218.2px;transform-origin:0 0;top:1639.30px;font-size:28px;line-height:28px;color:#c7d0d9;font-weight:400;transform:scaleX(0.9792);">2025-07-30 09:50:19</span>
<span id="t_r1b" class="t" style="right:96.1px;transform-origin:100% 0;top:1639.30px;font-size:28px;line-height:28px;color:#c7d0d9;font-weight:400;transform:scaleX(0.9853);">60.6</span>
<div style="position:absolute;left:206px;top:1688px;width:3236px;height:2px;box-sizing:border-box;background:#1b1c20;"></div>
<span id="t_r2a" class="t" style="left:218.2px;transform-origin:0 0;top:1709.30px;font-size:28px;line-height:28px;color:#c7d0d9;font-weight:400;transform:scaleX(0.9792);">2025-07-30 09:50:21</span>
<span id="t_r2b" class="t" style="right:96.1px;transform-origin:100% 0;top:1709.30px;font-size:28px;line-height:28px;color:#c7d0d9;font-weight:400;transform:scaleX(0.9853);">60.6</span>
<div style="position:absolute;left:206px;top:1758px;width:3236px;height:2px;box-sizing:border-box;background:#1b1c20;"></div>
<span id="t_r3a" class="t" style="left:218.2px;transform-origin:0 0;top:1779.30px;font-size:28px;line-height:28px;color:#c7d0d9;font-weight:400;transform:scaleX(0.9792);">2025-07-30 09:50:23</span>
<span id="t_r3b" class="t" style="right:96.1px;transform-origin:100% 0;top:1779.30px;font-size:28px;line-height:28px;color:#c7d0d9;font-weight:400;transform:scaleX(0.9853);">60.1</span>
<div style="position:absolute;left:206px;top:1828px;width:3236px;height:2px;box-sizing:border-box;background:#1b1c20;"></div>
<svg class="ic" style="left:3400px;top:950px;z-index:3" width="100" height="190" viewBox="3400 950 100 190"><circle cx="3448" cy="996" r="36" fill="rgb(194,195,196)" fill-opacity="0.86"/><g fill="none" stroke="#46474a" stroke-width="3"><rect x="3433.5" y="984.6" width="9.6" height="9.6" rx="1.2"/><rect x="3433.5" y="1001.3" width="9.6" height="9.6" rx="1.2"/><rect x="3451.1" y="1001.3" width="9.6" height="9.6" rx="1.2"/></g><path fill="#46474a" d="M3456.3,979.8 L3458.5,985.4 L3464.1,987.6 L3458.5,989.8 L3456.3,995.4 L3454.1,989.8 L3448.5,987.6 L3454.1,985.4 Z"/><path d="M3446,1052 H3500 V1124 H3446 A36,36 0 0 1 3446,1052 Z" fill="rgb(194,195,196)" fill-opacity="0.86"/><circle cx="3448" cy="1088" r="28" fill="#a03e5e" fill-opacity="0.97"/><text x="3429.6" y="1088.6" font-family="'Liberation Sans','Noto Sans CJK SC',sans-serif" font-size="17.5" font-weight="700" fill="#c4c4c8" stroke="#c4c4c8" stroke-width="0.7" transform="translate(3429.6 1088.6) scale(1 1.12) translate(-3429.6 -1088.6)">中</text><text x="3447.3" y="1102.3" font-family="'Liberation Sans',sans-serif" font-size="24" font-weight="700" fill="#c4c4c8">A</text><path d="M3452,1072.6 q9.6,-0.600 10.200,8.800" fill="none" stroke="#c4c4c8" stroke-width="3"/><path d="M3434.2,1094.5 q0,7.500 9.800,7.500" fill="none" stroke="#c4c4c8" stroke-width="3"/></svg>
</div></div>
</body></html>
